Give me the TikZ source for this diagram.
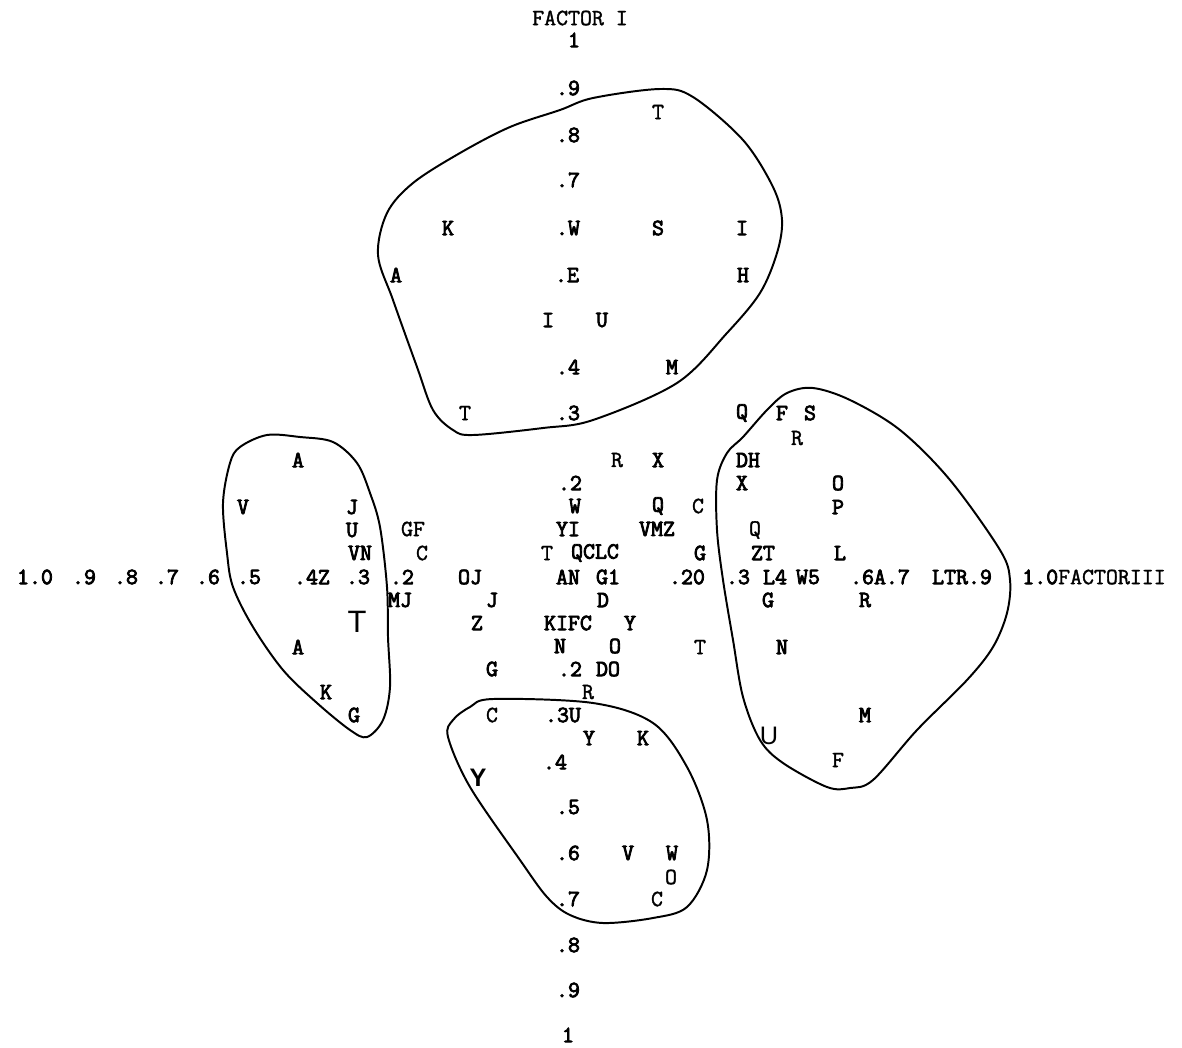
\documentclass[tikz,border=0pt]{standalone}
\usepackage{fontspec}
\newfontfamily\sansbig{Liberation Sans}
\newfontfamily\twb{Latin Modern Mono}[FakeBold=3.5]
\newfontfamily\twr{Latin Modern Mono}[FakeBold=1.5]
\begin{document}
\begin{tikzpicture}[x=0.025cm,y=-0.025cm,
  lb/.style={inner sep=0pt,font=\twb\fontsize{16.5}{17}\selectfont},
  lr/.style={inner sep=0pt,font=\twr\fontsize{16.5}{17}\selectfont},
  bigl/.style={inner sep=0pt,font=\sansbig\fontsize{22}{24}\selectfont},
  blob/.style={line width=1.4pt}]
\useasboundingbox (0,0) rectangle (1182,1047);
% loops
\draw[blob] plot[smooth cycle,tension=0.55] coordinates {(560,110) (593,98) (660,89) (693,97) (743,140) (773,187) (782,220) (777,253) (760,293) (727,333) (677,383) (593,420) (543,428) (473,435) (453,430) (433,410) (417,367) (393,300) (378,255) (387,213) (413,183) (460,153) (510,127)};
\draw[blob] plot[smooth cycle,tension=0.55] coordinates {(267,435) (300,437) (333,442) (357,463) (370,493) (380,527) (387,587) (388,637) (390,687) (383,720) (367,737) (350,730) (317,703) (283,670) (253,627) (233,587) (227,553) (223,503) (230,463) (240,447)};
\draw[blob] plot[smooth cycle,tension=0.55] coordinates {(813,388) (850,400) (900,430) (950,480) (1000,550) (1010,580) (1007,613) (993,647) (967,680) (917,730) (873,780) (850,788) (827,787) (783,763) (760,740) (743,697) (733,640) (723,580) (717,530) (717,480) (727,453) (743,437) (767,410) (787,393)};
\draw[blob] plot[smooth cycle,tension=0.55] coordinates {(493,699) (593,703) (653,723) (687,767) (707,820) (707,870) (687,907) (653,918) (603,923) (570,915) (547,897) (520,860) (470,787) (448,737) (453,720) (470,707)};
% top
\node[lr] (t1) at (580,18) {FACTOR I};
\node[lb] (t2) at (574,40) {1};
\node[lb] (t3) at (568,88) {.9};
\node[lr] (t4) at (658,112) {T};
\node[lb] (t5) at (568,135) {.8};
\node[lb] (t6) at (568,180) {.7};
\node[lb] (t7) at (448,228) {K};
\node[lb] (t8) at (568,228) {.W};
\node[lb] (t9) at (658,228) {S};
\node[lb] (t10) at (742,228) {I};
\node[lb] (t11) at (396,275) {A};
\node[lb] (t12) at (567,275) {.E};
\node[lb] (t13) at (743,275) {H};
\node[lb] (t14) at (548,320) {I};
\node[lb] (t15) at (602,320) {U};
\node[lb] (t16) at (568,367) {.4};
\node[lb] (t17) at (672,367) {M};
\node[lr] (t18) at (465,413) {T};
\node[lb] (t19) at (568,413) {.3};
\node[lb] (t20) at (742,413) {Q};
\node[lb] (t21) at (782,413) {F};
\node[lb] (t22) at (810,413) {S};
\node[lr] (t23) at (797,438) {R};
% middle upper
\node[lr] (m1) at (617,460) {R};
\node[lb] (m2) at (658,460) {X};
\node[lb] (m3) at (748,460) {DH};
\node[lb] (m4) at (570,483) {.2};
\node[lb] (m5) at (742,483) {X};
\node[lb] (m6) at (838,483) {O};
\node[lb] (m7) at (575,506) {W};
\node[lb] (m8) at (658,506) {Q};
\node[lr] (m9) at (698,506) {C};
\node[lb] (m10) at (838,507) {P};
\node[lr] (m11) at (413,529) {GF};
\node[lb] (m12) at (568,529) {YI};
\node[lb] (m13) at (657,529) {VMZ};
\node[lr] (m14) at (755,530) {Q};
\node[lr] (m15) at (422,553) {C};
\node[lr] (m16) at (547,553) {T};
\node[lb] (m17) at (595,553) {QCLC};
\node[lb] (m18) at (700,553) {G};
\node[lb] (m19) at (763,553) {ZT};
\node[lb] (m20) at (840,553) {L};
% left
\node[lb] (l1) at (298,460) {A};
\node[lb] (l2) at (243,507) {V};
\node[lb] (l3) at (352,507) {J};
\node[lb] (l4) at (352,530) {U};
\node[lb] (l5) at (360,553) {VN};
% axis row
\node[lb] (a1a) at (35,577) {1.0};
\node[lb] (a1b) at (84,577) {.9};
\node[lb] (a1c) at (126,577) {.8};
\node[lb] (a1d) at (167,577) {.7};
\node[lb] (a1e) at (208,577) {.6};
\node[lb] (a2) at (249,577) {.5};
\node[lb] (a3) at (312,577) {.4Z};
\node[lb] (a4) at (358,577) {.3};
\node[lb] (a5) at (402,577) {.2};
\node[lb] (a6) at (470,577) {OJ};
\node[lb] (a7) at (568,577) {AN};
\node[lb] (a8) at (608,577) {G1};
\node[lb] (a9) at (687,577) {.20};
\node[lb] (a10) at (738,577) {.3};
\node[lb] (a11) at (775,577) {L4};
\node[lb] (a12) at (808,577) {W5};
\node[lb] (a13) at (880,577) {.6A.7};
\node[lb] (a14) at (962,577) {LTR.9};
\node[lb] (a15) at (1094,577) {1.0\twr FACTORIII};
% below axis
\node[lb] (b1) at (400,600) {MJ};
\node[lb] (b2) at (492,600) {J};
\node[lb] (b3) at (603,600) {D};
\node[lb] (b4) at (768,600) {G};
\node[lb] (b5) at (865,600) {R};
\node[bigl] (b6) at (357,622) {T};
\node[lb] (b7) at (477,623) {Z};
\node[lb] (b8) at (568,623) {KIFC};
\node[lb] (b9) at (630,623) {Y};
\node[lb] (b10) at (298,647) {A};
\node[lb] (b11) at (560,646) {N};
\node[lb] (b12) at (615,646) {O};
\node[lr] (b13) at (700,647) {T};
\node[lb] (b14) at (782,647) {N};
\node[lb] (b15) at (492,669) {G};
\node[lb] (b16) at (570,669) {.2};
\node[lb] (b17) at (608,669) {DO};
\node[lr] (b18) at (588,692) {R};
\node[lb] (b19) at (326,692) {K};
\node[lb] (b20) at (354,715) {G};
\node[lr] (b21) at (492,715) {C};
\node[lb] (b22) at (563,715) {.3U};
\node[lb] (b23) at (865,715) {M};
\node[lb] (b24) at (589,738) {Y};
\node[lb] (b25) at (643,738) {K};
\node[inner sep=0pt,font=\sansbig\fontsize{18}{20}\selectfont] (b26) at (769,736) {U};
\node[lr] (b27) at (838,760) {F};
\node[lb] (b28) at (555,762) {.4};
\node[inner sep=0pt,font=\sansbig\bfseries\fontsize{18}{20}\selectfont] (b29) at (478,778) {Y};
\node[lb] (b30) at (568,807) {.5};
\node[lb] (b31) at (568,853) {.6};
\node[lb] (b32) at (628,853) {V};
\node[lb] (b33) at (672,853) {W};
\node[lr] (b34) at (671,877) {O};
\node[lb] (b35) at (568,899) {.7};
\node[lr] (b36) at (657,899) {C};
\node[lb] (b37) at (568,945) {.8};
\node[lb] (b38) at (568,990) {.9};
\node[lb] (b39) at (568,1035) {1};
\end{tikzpicture}
\end{document}
